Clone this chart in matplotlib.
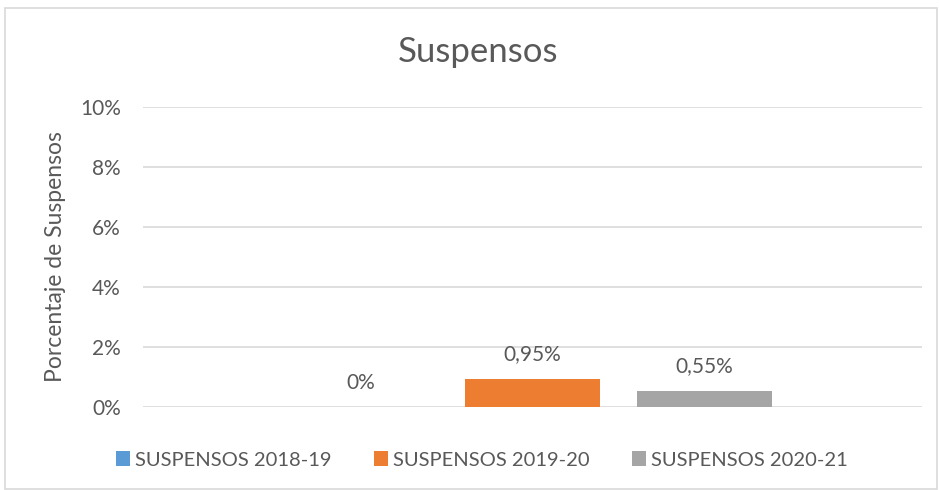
import numpy as np
import matplotlib.pyplot as plt
from matplotlib.patches import Rectangle

# datos
series = ['SUSPENSOS 2018-19', 'SUSPENSOS 2019-20', 'SUSPENSOS 2020-21']
valores = [0.0, 0.95, 0.55]
etiquetas = ['0%', '0,95%', '0,55%']
colores = ['#5B9BD5', '#ED7D31', '#A5A5A5']
yticks = [0, 2, 4, 6, 8, 10]

plt.rcParams['font.family'] = ['Lato', 'DejaVu Sans']
gris_texto = '#595959'

fig = plt.figure(figsize=(9.39, 4.90), dpi=100)
ax = fig.add_axes([143/939, 83/490, 779/939, 300/490])

x = np.arange(len(series))
barras = ax.bar(x, valores, width=0.79, color=colores, label=series, zorder=2)
for xi, v, txt in zip(x, valores, etiquetas):
    ax.annotate(txt, (xi, v), xytext=(0, 13), textcoords='offset points',
                ha='center', va='baseline', fontsize=15, color=gris_texto)

ax.set_xlim(1 - 2.265, 1 + 2.265)
ax.set_ylim(0, 10)
ax.set_yticks(yticks)
ax.set_yticklabels([f'{t}%' for t in yticks])
ax.set_xticks([])
ax.tick_params(axis='y', length=0, pad=16, labelsize=15, labelcolor=gris_texto)
ax.grid(axis='y', color='#D9D9D9', linewidth=1.2, zorder=0)
for s in ax.spines.values():
    s.set_visible(False)
ax.set_ylabel('Porcentaje de Suspensos', fontsize=16.5, color=gris_texto, labelpad=10)

fig.text(478/939, 1 - 52/490, 'Suspensos', ha='center', va='center',
         fontsize=25, color=gris_texto)

fig.legend(handles=barras, labels=series, loc='center', ncol=3,
           bbox_to_anchor=(482/939, 1 - 460/490), frameon=False,
           fontsize=14.5, labelcolor=gris_texto, handlelength=0.7,
           handleheight=0.7, handletextpad=0.25, columnspacing=2.1)

fig.patches.append(Rectangle((5/939, 0.002), 932/939, 1 - 8/490 - 0.002,
                             transform=fig.transFigure, fill=False,
                             edgecolor='#D9D9D9', linewidth=1.2))

fig.savefig('out.png', dpi=100, facecolor='white')
